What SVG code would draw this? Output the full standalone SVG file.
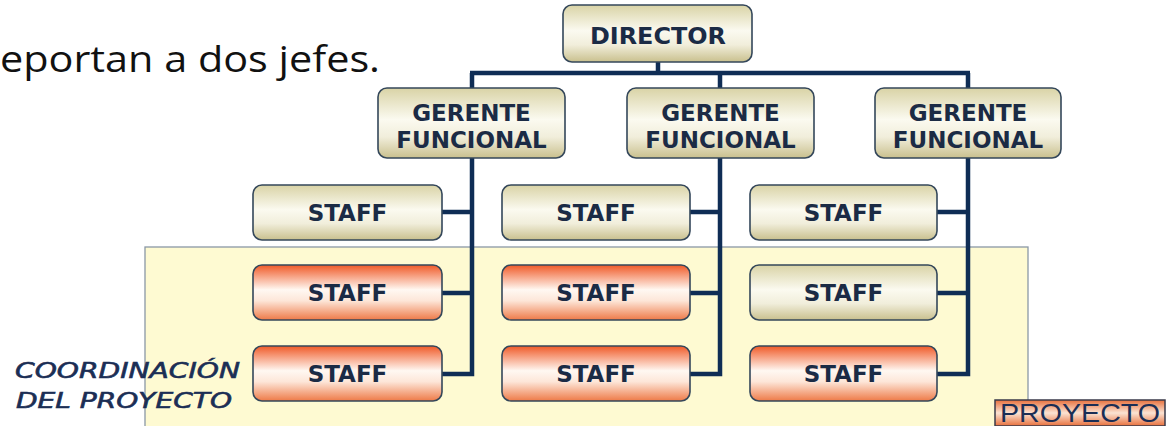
<svg xmlns="http://www.w3.org/2000/svg" width="1170" height="426" viewBox="0 0 1170 426">
<defs>
<linearGradient id="beige" x1="0" y1="0" x2="0" y2="1">
<stop offset="0" stop-color="#d9d3a6"/>
<stop offset="0.45" stop-color="#fbfaf0"/>
<stop offset="0.7" stop-color="#f1eedb"/>
<stop offset="1" stop-color="#c9c08e"/>
</linearGradient>
<linearGradient id="orange" x1="0" y1="0" x2="0" y2="1">
<stop offset="0" stop-color="#f05a28"/>
<stop offset="0.45" stop-color="#fff8f2"/>
<stop offset="0.65" stop-color="#fde6d8"/>
<stop offset="1" stop-color="#ee7a48"/>
</linearGradient>
<linearGradient id="tag" x1="0" y1="0" x2="0" y2="1">
<stop offset="0" stop-color="#e8703c"/>
<stop offset="0.5" stop-color="#fbe3d3"/>
<stop offset="1" stop-color="#e8703c"/>
</linearGradient>
</defs>
<style>
.box{stroke:#34475a;stroke-width:1.6}
.b{fill:url(#beige)}
.o{fill:url(#orange)}
.lbl{font-family:"DejaVu Sans",sans-serif;font-weight:bold;font-size:23px;fill:#1b2b45;text-anchor:middle}
.con{stroke:#0f2d55;stroke-width:4.5;fill:none}
.coord{font-family:"DejaVu Sans",sans-serif;font-style:italic;font-size:21px;fill:#1b2e55;stroke:#1b2e55;stroke-width:0.6}
</style>
<rect width="1170" height="426" fill="#ffffff"/>
<text x="0" y="72" font-family="'Open Sans',sans-serif" font-size="37" fill="#111111" textLength="380" lengthAdjust="spacingAndGlyphs">eportan a dos jefes.</text>

<g id="proyecto-area">
<rect x="145" y="247" width="883" height="185" fill="#fefad2" stroke="#8a98a6" stroke-width="1.3"/>
</g>

<g id="connectors">
<path class="con" d="M658 62 V73 M470 73 H970 M472 73 V374 H442 M442 212 H472 M442 293 H472 M720 73 V374 H690 M690 212 H720 M690 293 H720 M968 73 V374 H937 M937 212 H968 M937 293 H968"/>
</g>

<g id="director">
<rect class="box b" x="563" y="5" width="189" height="57" rx="9"/>
<text class="lbl" x="658" y="44" textLength="136" lengthAdjust="spacingAndGlyphs">DIRECTOR</text>
</g>

<g id="gerente1">
<rect class="box b" x="378" y="88" width="187" height="70" rx="9"/>
<text class="lbl" x="471.5" y="121">GERENTE</text>
<text class="lbl" x="471.5" y="148">FUNCIONAL</text>
</g>
<g id="gerente2">
<rect class="box b" x="627" y="88" width="187" height="70" rx="9"/>
<text class="lbl" x="720.5" y="121">GERENTE</text>
<text class="lbl" x="720.5" y="148">FUNCIONAL</text>
</g>
<g id="gerente3">
<rect class="box b" x="875" y="88" width="186" height="70" rx="9"/>
<text class="lbl" x="968" y="121">GERENTE</text>
<text class="lbl" x="968" y="148">FUNCIONAL</text>
</g>

<g id="staff1a"><rect class="box b" x="253" y="185" width="189" height="55" rx="9"/><text class="lbl" x="347.5" y="221">STAFF</text></g>
<g id="staff2a"><rect class="box b" x="502" y="185" width="188" height="55" rx="9"/><text class="lbl" x="596" y="221">STAFF</text></g>
<g id="staff3a"><rect class="box b" x="750" y="185" width="187" height="55" rx="9"/><text class="lbl" x="843.5" y="221">STAFF</text></g>

<g id="staff1b"><rect class="box o" x="253" y="265" width="189" height="55" rx="9"/><text class="lbl" x="347.5" y="301">STAFF</text></g>
<g id="staff2b"><rect class="box o" x="502" y="265" width="188" height="55" rx="9"/><text class="lbl" x="596" y="301">STAFF</text></g>
<g id="staff3b"><rect class="box b" x="750" y="265" width="187" height="55" rx="9"/><text class="lbl" x="843.5" y="301">STAFF</text></g>

<g id="staff1c"><rect class="box o" x="253" y="346" width="189" height="55" rx="9"/><text class="lbl" x="347.5" y="382">STAFF</text></g>
<g id="staff2c"><rect class="box o" x="502" y="346" width="188" height="55" rx="9"/><text class="lbl" x="596" y="382">STAFF</text></g>
<g id="staff3c"><rect class="box o" x="750" y="346" width="187" height="55" rx="9"/><text class="lbl" x="843.5" y="382">STAFF</text></g>

<g id="coordinacion">
<text class="coord" x="15" y="378" textLength="225" lengthAdjust="spacingAndGlyphs">COORDINACIÓN</text>
<text class="coord" x="16" y="408" textLength="216" lengthAdjust="spacingAndGlyphs">DEL PROYECTO</text>
</g>

<g id="proyecto-tag">
<rect x="995" y="400" width="170" height="26" fill="url(#tag)" stroke="#3a3a4a" stroke-width="1.5"/>
<text x="1080" y="422" font-family="'Liberation Sans',sans-serif" font-size="25" fill="#1b2e55" text-anchor="middle" textLength="160" lengthAdjust="spacingAndGlyphs">PROYECTO</text>
</g>
</svg>
